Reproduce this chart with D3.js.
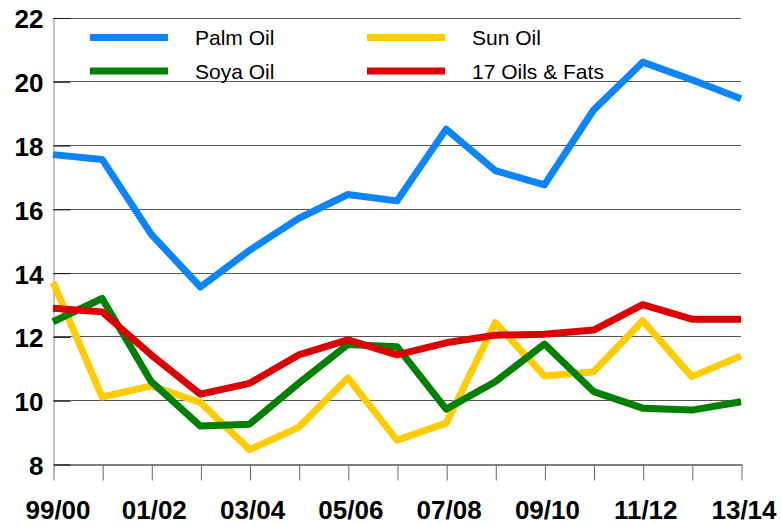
<!DOCTYPE html>
<html>
<head>
<meta charset="utf-8">
<script src="https://cdn.jsdelivr.net/npm/d3@7"></script>
<style>
body { margin: 0; background: #fff; }
svg { display: block; font-family: "Liberation Sans", Arial, sans-serif; }
</style>
</head>
<body>
<svg width="782" height="524"></svg>
<script>
// seasons on the x axis, only every other one gets a label
const seasons = ["99/00","00/01","01/02","02/03","03/04","04/05","05/06","06/07",
                 "07/08","08/09","09/10","10/11","11/12","12/13","13/14"];
const xLabels = ["99/00","01/02","03/04","05/06","07/08","09/10","11/12","13/14"];
const yTicks = [8, 10, 12, 14, 16, 18, 20, 22];

// values
const palmOil  = [17.7, 17.55, 15.2, 13.55, 14.7, 15.7, 16.45, 16.25, 18.5, 17.2, 16.75, 19.1, 20.6, 20.05, 19.45];
const sunOil   = [13.7, 10.1, 10.45, 9.93, 8.45, 9.15, 10.7, 8.75, 9.28, 12.43, 10.76, 10.89, 12.49, 10.74, 11.39];
const soyaOil  = [12.46, 13.19, 10.58, 9.19, 9.25, 10.53, 11.75, 11.68, 9.72, 10.58, 11.76, 10.27, 9.75, 9.69, 9.95];
const oilsFats = [12.88, 12.77, 11.42, 10.19, 10.53, 11.42, 11.89, 11.42, 11.8, 12.04, 12.07, 12.2, 13.0, 12.54, 12.54];

const seriesNames = ["Palm Oil", "Sun Oil", "Soya Oil", "17 Oils & Fats"];
const seriesValues = [palmOil, sunOil, soyaOil, oilsFats];
const seriesColors = ["#0a84ff", "#ffcc00", "#008000", "#dd0000"];

const drawChart = () => {
    const left = 53, right = 741, top = 17.5, bottom = 464;
    const svg = d3.select("svg");

    const x = d3.scalePoint().domain(seasons).range([left, right]);
    const y = d3.scaleLinear().domain([8, 22]).range([bottom, top]);

    // horizontal grid
    svg.append("g")
        .selectAll("line")
        .data(yTicks.slice(1))
        .enter()
        .append("line")
        .attr("x1", left)
        .attr("x2", right)
        .attr("y1", d => Math.round(y(d)) + 0.5)
        .attr("y2", d => Math.round(y(d)) + 0.5)
        .attr("stroke", "#555")
        .attr("stroke-width", 1);

    // y axis, ticks point inwards
    const yAxis = svg.append("g")
        .attr("transform", "translate(" + (left + 0.5) + ",0.5)")
        .call(d3.axisLeft(y)
            .tickValues(yTicks)
            .tickSizeInner(-17)
            .tickSizeOuter(0)
            .tickPadding(10));
    yAxis.select(".domain").attr("stroke", "#888");
    yAxis.selectAll(".tick line").attr("stroke", "#111");
    yAxis.selectAll("text")
        .attr("font-family", "'Liberation Sans', Arial, sans-serif")
        .attr("font-size", 26)
        .attr("font-weight", "bold")
        .attr("fill", "#000")
        .attr("dy", "0.38em");

    // x axis
    const xAxis = svg.append("g")
        .attr("transform", "translate(0.5," + (bottom + 0.5) + ")")
        .call(d3.axisBottom(x)
            .tickSizeInner(16)
            .tickSizeOuter(0)
            .tickPadding(20)
            .tickFormat(d => xLabels.includes(d) ? d : ""));
    xAxis.select(".domain").attr("stroke", "#000");
    xAxis.selectAll(".tick line").attr("stroke", "#666");
    xAxis.selectAll("text")
        .attr("font-family", "'Liberation Sans', Arial, sans-serif")
        .attr("font-size", 26)
        .attr("font-weight", "bold")
        .attr("fill", "#000")
        .attr("dx", (d, i) => i == 0 ? 4 : 2);

    const line = d3.line()
        .x((d, i) => x(seasons[i]))
        .y(d => y(d));

    svg.append("g")
        .selectAll("path")
        .data(seriesValues)
        .enter()
        .append("path")
        .attr("d", d => line(d))
        .attr("fill", "none")
        .attr("stroke", (d, i) => seriesColors[i])
        .attr("stroke-width", 7)
        .attr("stroke-linejoin", "round");

    // legend, two columns
    const legend = svg.append("g")
        .selectAll("g")
        .data(seriesNames)
        .enter()
        .append("g")
        .attr("transform", (d, i) => "translate(" + (i % 2 == 0 ? 90 : 367) + "," + (i < 2 ? 37.5 : 71) + ")");

    legend.append("line")
        .attr("x1", 0)
        .attr("x2", 78)
        .attr("stroke", (d, i) => seriesColors[i])
        .attr("stroke-width", 7);

    legend.append("text")
        .attr("x", 105)
        .attr("y", 7.5)
        .attr("font-size", 21)
        .attr("fill", "#000")
        .text(d => d);
}
drawChart();
</script>
</body>
</html>
